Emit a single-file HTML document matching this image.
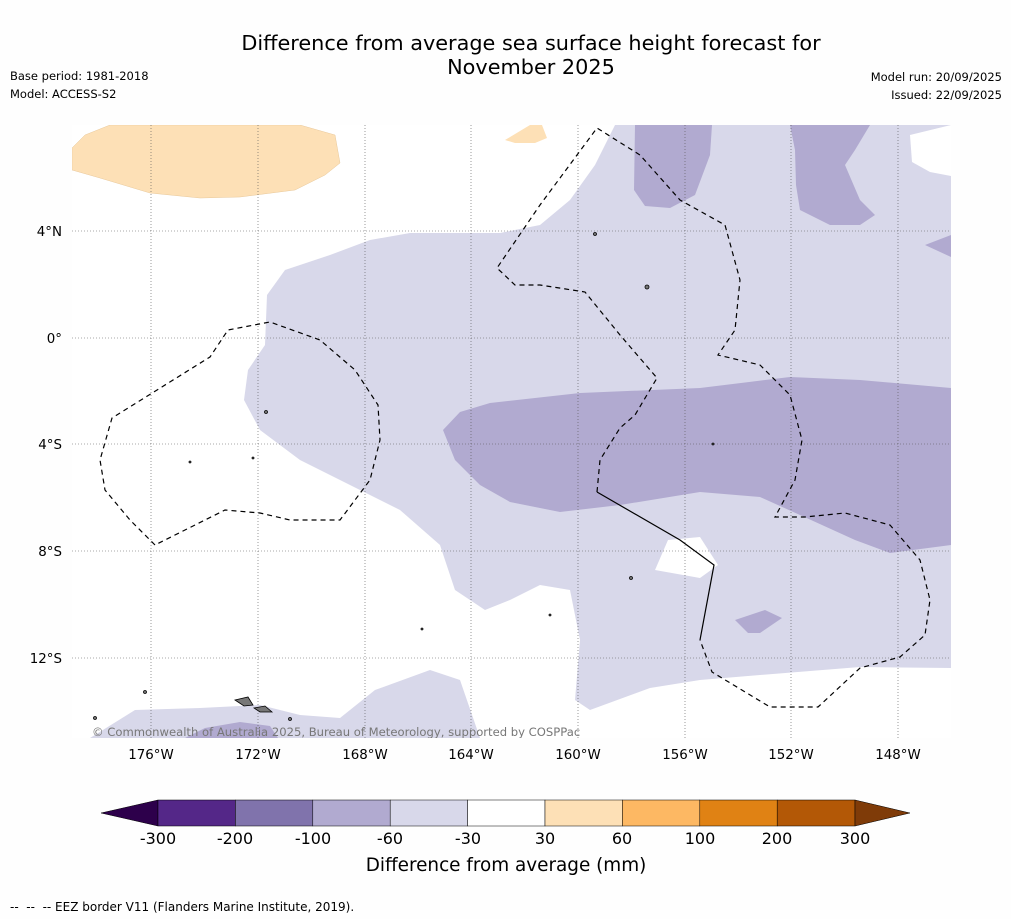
<!DOCTYPE html>
<html><head><meta charset="utf-8">
<style>
body{margin:0;background:#fff;font-family:"DejaVu Sans",sans-serif;}
svg text{font-family:"DejaVu Sans",sans-serif;}
</style></head>
<body>
<svg width="1011" height="919" viewBox="0 0 1011 919" xmlns="http://www.w3.org/2000/svg">
<rect width="1011" height="919" fill="#fefefe"/>
<text x="531" y="50" font-size="20.8" text-anchor="middle">Difference from average sea surface height forecast for</text>
<text x="531" y="74" font-size="20.8" text-anchor="middle">November 2025</text>
<text x="10" y="80" font-size="11.5">Base period: 1981-2018</text>
<text x="10" y="98" font-size="11.5">Model: ACCESS-S2</text>
<text x="1002" y="81" font-size="11.5" text-anchor="end">Model run: 20/09/2025</text>
<text x="1002" y="99" font-size="11.5" text-anchor="end">Issued: 22/09/2025</text>

<defs><clipPath id="mc"><rect x="72" y="125" width="879" height="613"/></clipPath></defs>
<g clip-path="url(#mc)">
<rect x="72" y="125" width="879" height="613" fill="#ffffff"/>
<path fill="#d8d8ea" d="M615,125 L951,125 L951,668 L860,667 L760,675 L700,680 L650,688 L590,710 L575,700 L580,640 L570,590 L540,585 L510,600 L485,610 L455,590 L440,545 L400,510 L340,480 L300,460 L260,430 L244,400 L248,370 L265,345 L267,295 L285,270 L330,255 L370,240 L410,233 L500,233 L540,225 L570,200 L595,165 Z"/>
<path fill="#fff" d="M668,540 L700,537 L718,565 L700,578 L655,570 Z"/>
<path fill="#fff" d="M910,135 L951,125 L951,176 L930,172 L912,162 Z"/>
<path fill="#d8d8ea" d="M90,738 L135,710 L200,708 L260,705 L300,715 L340,718 L375,690 L430,670 L460,680 L480,738 Z"/>
<path fill="#b1aad0" d="M185,738 L205,728 L240,722 L270,726 L278,738 Z"/>
<path fill="#b1aad0" d="M443,430 L460,412 L490,403 L580,393 L700,388 L790,377 L860,380 L951,388 L951,545 L890,553 L855,540 L800,515 L760,497 L700,492 L620,505 L560,512 L510,502 L480,485 L455,460 Z"/>
<path fill="#b1aad0" d="M635,125 L712,125 L710,155 L695,195 L670,208 L645,206 L634,190 Z"/>
<path fill="#b1aad0" d="M790,125 L870,125 L855,150 L845,165 L860,200 L875,215 L860,225 L830,225 L800,210 L796,185 L795,150 Z"/>
<path fill="#b1aad0" d="M925,245 L951,235 L951,257 Z"/>
<path fill="#b1aad0" d="M735,620 L765,610 L782,618 L760,633 L748,633 Z"/>
<path fill="#fde0b6" stroke="#e8c89a" stroke-width="0.5" d="M72,148 L85,135 L110,125 L300,125 L335,135 L340,163 L325,175 L295,190 L240,197 L200,198 L150,193 L100,178 L72,170 Z"/>
<path fill="#fde0b6" d="M505,140 L530,125 L542,125 L547,138 L535,143 L515,143 Z"/>

<g stroke="#555" stroke-width="0.6" stroke-dasharray="1,2">
<line x1="151" y1="125" x2="151" y2="738"/><line x1="258" y1="125" x2="258" y2="738"/>
<line x1="365" y1="125" x2="365" y2="738"/><line x1="471" y1="125" x2="471" y2="738"/>
<line x1="578" y1="125" x2="578" y2="738"/><line x1="685" y1="125" x2="685" y2="738"/>
<line x1="791" y1="125" x2="791" y2="738"/><line x1="898" y1="125" x2="898" y2="738"/>
<line x1="72" y1="231" x2="951" y2="231"/><line x1="72" y1="338" x2="951" y2="338"/>
<line x1="72" y1="444" x2="951" y2="444"/><line x1="72" y1="551" x2="951" y2="551"/>
<line x1="72" y1="658" x2="951" y2="658"/>
</g>

<g fill="none" stroke="#000" stroke-width="1.2">
<path stroke-dasharray="5,4" d="M155,545 L130,520 L105,490 L100,460 L112,418 L210,357 L228,330 L270,322 L320,340 L355,370 L378,405 L380,440 L370,480 L340,520 L290,520 L260,513 L225,510 Z"/>
<path stroke-dasharray="5,4" d="M597,492 L600,460 L620,428 L635,415 L657,378 L620,335 L585,292 L540,285 L515,285 L497,268 L540,205 L597,128 L640,155 L680,200 L725,225 L740,280 L735,330 L718,355 L760,365 L790,395 L802,440 L795,480 L775,517 L805,517 L845,513 L890,525 L920,560 L930,600 L925,635 L900,657 L860,668 L818,707 L770,707 L712,672 L700,640"/>
<path d="M597,492 L680,540 L714,565 L700,640"/>
</g>

<g fill="#777" stroke="#000" stroke-width="0.8">
<path d="M235,700 L248,697 L253,705 L244,706 Z"/>
<path d="M254,708 L265,706 L272,712 L260,712 Z"/>
<circle cx="145" cy="692" r="1.5"/><circle cx="95" cy="718" r="1.5"/><circle cx="290" cy="719" r="1.5"/>
<circle cx="266" cy="412" r="1.5"/><circle cx="253" cy="458" r="1"/><circle cx="595" cy="234" r="1.5"/>
<circle cx="647" cy="287" r="2"/><circle cx="631" cy="578" r="1.5"/><circle cx="550" cy="615" r="1"/>
<circle cx="422" cy="629" r="1"/><circle cx="713" cy="444" r="1"/><circle cx="190" cy="462" r="1"/>
</g>
<text x="92" y="736" font-size="11.6" fill="#777">© Commonwealth of Australia 2025, Bureau of Meteorology, supported by COSPPac</text>
</g>

<g font-size="13.4" fill="#000">
<text x="62" y="236" text-anchor="end">4°N</text>
<text x="62" y="343" text-anchor="end">0°</text>
<text x="62" y="449" text-anchor="end">4°S</text>
<text x="62" y="556" text-anchor="end">8°S</text>
<text x="62" y="663" text-anchor="end">12°S</text>
<g text-anchor="middle">
<text x="151" y="759">176°W</text><text x="258" y="759">172°W</text><text x="365" y="759">168°W</text>
<text x="471" y="759">164°W</text><text x="578" y="759">160°W</text><text x="685" y="759">156°W</text>
<text x="791" y="759">152°W</text><text x="898" y="759">148°W</text>
</g></g>

<g stroke="#000" stroke-width="0.5">
<polygon points="101,813 158,800 158,826" fill="#2d004b"/>
<rect x="158" y="800" width="77.4" height="26" fill="#542788"/>
<rect x="235.4" y="800" width="77.4" height="26" fill="#8073ac"/>
<rect x="312.8" y="800" width="77.4" height="26" fill="#b1aad0"/>
<rect x="390.2" y="800" width="77.4" height="26" fill="#d8d8ea"/>
<rect x="467.6" y="800" width="77.4" height="26" fill="#ffffff"/>
<rect x="545" y="800" width="77.4" height="26" fill="#fde0b6"/>
<rect x="622.4" y="800" width="77.4" height="26" fill="#fdb863"/>
<rect x="699.8" y="800" width="77.4" height="26" fill="#e08214"/>
<rect x="777.2" y="800" width="77.8" height="26" fill="#b35806"/>
<polygon points="855,800 910,813 855,826" fill="#7f3b08"/>
</g>
<g font-size="16" text-anchor="middle">
<text x="158" y="844">-300</text><text x="235" y="844">-200</text><text x="313" y="844">-100</text>
<text x="390" y="844">-60</text><text x="468" y="844">-30</text><text x="545" y="844">30</text>
<text x="622" y="844">60</text><text x="700" y="844">100</text><text x="777" y="844">200</text><text x="855" y="844">300</text>
</g>
<text x="506" y="871" font-size="18.4" text-anchor="middle">Difference from average (mm)</text>
<text x="10" y="911" font-size="12" xml:space="preserve">--  --  -- EEZ border V11 (Flanders Marine Institute, 2019).</text>
</svg>
</body></html>
